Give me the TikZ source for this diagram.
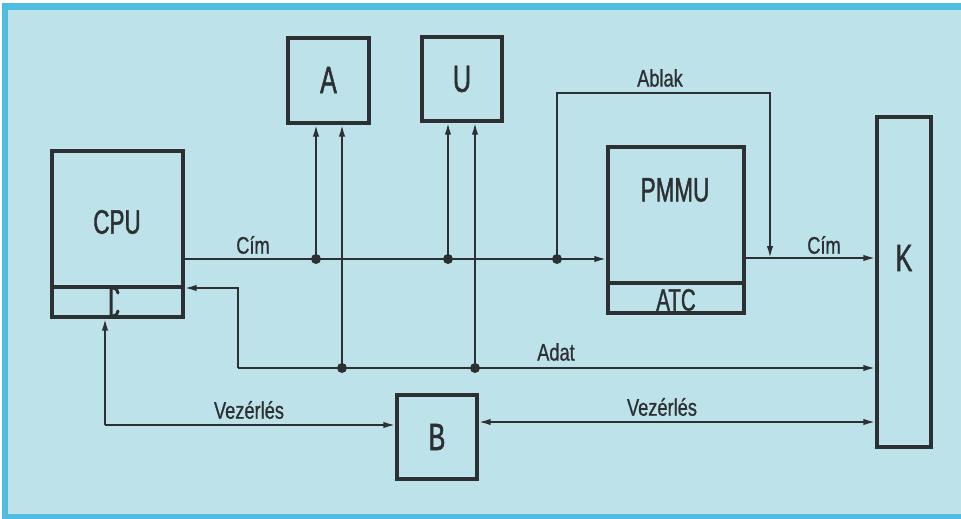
\documentclass[tikz,border=0pt]{standalone}
\usepackage{fontspec}
\setmainfont{Liberation Sans}
\newfontfamily\bigfont[FakeStretch=0.66,FakeBold=1.2]{Liberation Sans}
\newfontfamily\smallfont[FakeStretch=0.76,FakeBold=0.8]{Liberation Sans}
\usetikzlibrary{arrows.meta}
\definecolor{bgblue}{RGB}{190,226,234}
\definecolor{framecyan}{RGB}{80,188,224}
\definecolor{ink}{RGB}{44,48,50}
\begin{document}
\begin{tikzpicture}[x=1pt,y=-1pt,
  box/.style={draw=ink,line width=3.4pt,inner sep=0pt,anchor=center},
  bigtxt/.style={text=ink,font=\bigfont\fontsize{38}{38}\selectfont,inner sep=0pt},
  midtxt/.style={text=ink,font=\bigfont\fontsize{34}{34}\selectfont,inner sep=0pt},
  lbl/.style={text=ink,font=\smallfont\fontsize{24}{24}\selectfont,inner sep=0pt},
  wire/.style={draw=ink,line width=1.9pt},
  tip/.tip={Latex[length=12pt,width=6.5pt]},
  arr/.style={wire,-tip},
  dot/.style={circle,fill=ink,inner sep=0pt,minimum size=10pt}]
\useasboundingbox (0,0) rectangle (961,519);
\fill[white] (0,0) rectangle (961,519);
\fill[framecyan] (2,3) rectangle (961,519);
\fill[bgblue] (8,10) rectangle (961,514);

% boxes
\node[box,minimum width=131pt,minimum height=166pt] (CPU) at (117.5,234) {};
\node[box,minimum width=81pt,minimum height=85pt] (A) at (328.5,80.5) {};
\node[box,minimum width=80pt,minimum height=84pt] (U) at (462,79) {};
\node[box,minimum width=136pt,minimum height=166pt] (PMMU) at (676,230) {};
\node[box,minimum width=54pt,minimum height=330pt] (K) at (904,282) {};
\node[box,minimum width=80pt,minimum height=84pt] (B) at (437,437) {};

% compartments
\coordinate (cpuDiv) at (52,287);
\draw[ink,line width=3.4pt] (CPU.west |- cpuDiv) -- (CPU.east |- cpuDiv);
\coordinate (pmDiv) at (608,283);
\draw[ink,line width=3.4pt] (PMMU.west |- pmDiv) -- (PMMU.east |- pmDiv);
\draw[ink,line width=3pt,line cap=round] (118,293) .. controls (118,290) and (116,288) .. (112,288) -- (111,288) -- (111,316) -- (112,316) .. controls (116,316) and (118,314) .. (118,311);

% texts
\node[midtxt] (tCPU) at (117,222) {CPU};
\node[bigtxt] (tA) at (328.5,80) {A};
\node[bigtxt] (tU) at (462,79) {U};
\node[bigtxt] (tB) at (437,437) {B};
\node[bigtxt] (tK) at (904,258) {K};
\node[midtxt] (tPMMU) at (675,190) {PMMU};
\node[text=ink,font=\bigfont\fontsize{31}{31}\selectfont,inner sep=0pt] (tATC) at (676,300) {ATC};
\node[lbl] (lCim1) at (253,245) {Cím};
\node[lbl] (lCim2) at (824,245) {Cím};
\node[lbl] (lAblak) at (660,78) {Ablak};
\node[lbl] (lAdat) at (556,352) {Adat};
\node[lbl] (lVez1) at (249,410) {Vezérlés};
\node[lbl] (lVez2) at (662,407) {Vezérlés};

% junctions
\coordinate (j1) at (316,259);
\coordinate (j2) at (448,259);
\coordinate (j3) at (557,259);
\coordinate (a0) at (238,368);
\coordinate (a1) at (342,368);
\coordinate (a2) at (475,368);
\coordinate (cpuIn) at (238,288);
\coordinate (ab1) at (557,93);
\coordinate (ab2) at (770,93);
\coordinate (pmOut) at (744,258);
\coordinate (v0) at (105,425);
\coordinate (vb) at (477,422);

% Cim bus
\draw[arr] (CPU.east |- j1) -- (PMMU.west |- j1);
\draw[arr] (j1) -- (A.south -| j1);
\draw[arr] (j2) -- (U.south -| j2);
% Ablak
\draw[arr] (j3) -- (ab1) -- (ab2) -- (ab2 |- pmOut);
\draw[arr] (PMMU.east |- pmOut) -- (K.west |- pmOut);
% Adat bus
\draw[arr] (a0) -- (cpuIn) -- (CPU.east |- cpuIn);
\draw[arr] (a0) -- (K.west |- a0);
\draw[arr] (a1) -- (A.south -| a1);
\draw[arr] (a2) -- (U.south -| a2);
% Vezerles
\draw[arr] (v0) -- (CPU.south -| v0);
\draw[arr] (v0) -- (B.west |- v0);
\draw[wire,tip-tip] (B.east |- vb) -- (K.west |- vb);

% dots
\node[dot] (d1) at (j1) {};
\node[dot] (d2) at (j2) {};
\node[dot] (d3) at (j3) {};
\node[dot] (d4) at (a1) {};
\node[dot] (d5) at (a2) {};
\end{tikzpicture}
\end{document}
